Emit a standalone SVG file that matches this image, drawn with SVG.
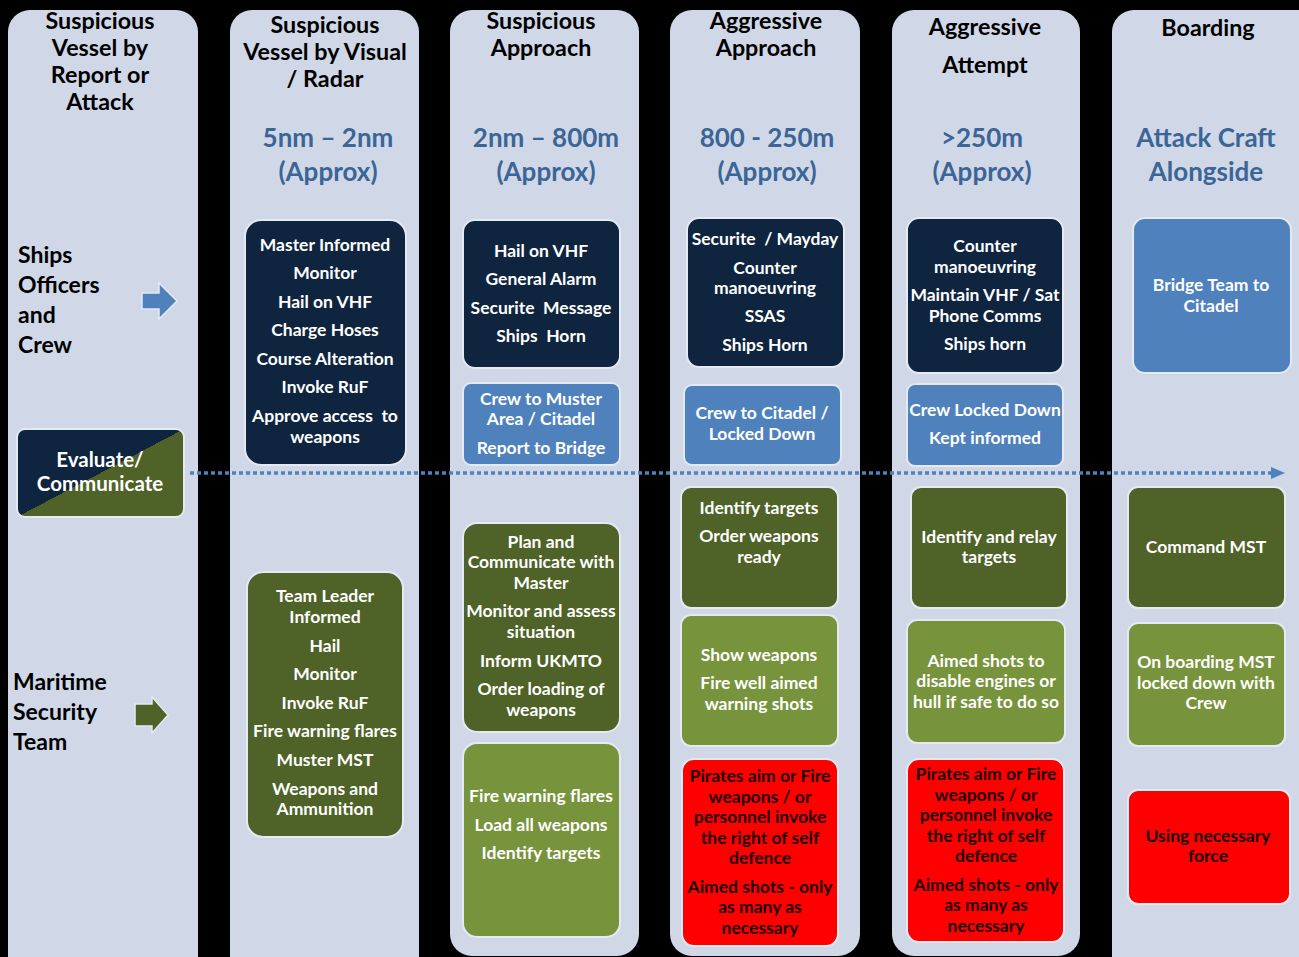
<svg xmlns="http://www.w3.org/2000/svg" width="1299" height="957" viewBox="0 0 1299 957">
<defs>
<style>
.col{fill:#D0D8E8;}
.hd{font-family:Lato,"Open Sans",sans-serif;font-weight:bold;font-size:23.3px;fill:#000;text-anchor:middle;}
.rng{font-family:Lato,"Open Sans",sans-serif;font-weight:bold;font-size:26px;fill:#3B6596;text-anchor:middle;}
.lbl{font-family:Lato,"Open Sans",sans-serif;font-weight:bold;font-size:23px;fill:#000;}
.box{stroke:#E4E9F2;stroke-width:2;}
.navy{fill:#0F243E;}
.dg{fill:#4F6228;}
.lg{fill:#77933C;}
.bl{fill:#4F81BD;}
.rd{fill:#FF0000;}
.t{font-family:Lato,"Open Sans",sans-serif;font-weight:bold;font-size:17.5px;fill:#fff;text-anchor:middle;}
.tr{font-family:Lato,"Open Sans",sans-serif;font-weight:bold;font-size:17.5px;fill:#1a0000;text-anchor:middle;}
.ev{font-family:Lato,"Open Sans",sans-serif;font-weight:bold;font-size:20.5px;fill:#fff;text-anchor:middle;}
</style>
<linearGradient id="evg" x1="0" y1="0" x2="1" y2="1">
<stop offset="0.5" stop-color="#0F243E"/>
<stop offset="0.5" stop-color="#4F6228"/>
</linearGradient>
<marker id="ah" markerWidth="14" markerHeight="12" refX="0" refY="6" orient="auto" markerUnits="userSpaceOnUse">
<path d="M0,0 L14,6 L0,12 Z" fill="#4F81BD"/>
</marker>
</defs>
<rect x="0" y="0" width="1299" height="957" fill="#000"/>

<g id="columns">
<rect class="col" x="8" y="10" width="190" height="970" rx="22"/>
<rect class="col" x="230" y="10" width="189" height="970" rx="22"/>
<rect class="col" x="450" y="10" width="189" height="946" rx="22"/>
<rect class="col" x="670" y="10" width="190" height="946" rx="22"/>
<rect class="col" x="892" y="10" width="188" height="946" rx="22"/>
<rect class="col" x="1112" y="10" width="210" height="970" rx="22"/>
</g>

<g id="headers">
<text class="hd" x="100" y="29">Suspicious</text>
<text class="hd" x="100" y="56">Vessel by</text>
<text class="hd" x="100" y="83">Report or</text>
<text class="hd" x="100" y="110">Attack</text>

<text class="hd" x="325" y="33">Suspicious</text>
<text class="hd" x="325" y="60">Vessel by Visual</text>
<text class="hd" x="325" y="87">/ Radar</text>
<text class="rng" x="328" y="147">5nm – 2nm</text>
<text class="rng" x="328" y="181">(Approx)</text>

<text class="hd" x="541" y="29">Suspicious</text>
<text class="hd" x="541" y="56">Approach</text>
<text class="rng" x="546" y="147">2nm – 800m</text>
<text class="rng" x="546" y="181">(Approx)</text>

<text class="hd" x="766" y="29">Aggressive</text>
<text class="hd" x="766" y="56">Approach</text>
<text class="rng" x="767" y="147">800 - 250m</text>
<text class="rng" x="767" y="181">(Approx)</text>

<text class="hd" x="985" y="35">Aggressive</text>
<text class="hd" x="985" y="73">Attempt</text>
<text class="rng" x="982" y="147">&gt;250m</text>
<text class="rng" x="982" y="181">(Approx)</text>

<text class="hd" x="1208" y="36">Boarding</text>
<text class="rng" x="1206" y="147">Attack Craft</text>
<text class="rng" x="1206" y="181">Alongside</text>
</g>

<g id="lane-ships">
<text class="lbl" x="18" y="263">Ships</text>
<text class="lbl" x="18" y="293">Officers</text>
<text class="lbl" x="18" y="323">and</text>
<text class="lbl" x="18" y="353">Crew</text>
<path d="M142,293 L159,293 L159,283 L177,301 L159,319 L159,309 L142,309 Z" fill="#4F81BD" stroke="#E4E9F2" stroke-width="1.5"/>
</g>

<g id="lane-mst">
<text class="lbl" x="13" y="690">Maritime</text>
<text class="lbl" x="13" y="720">Security</text>
<text class="lbl" x="13" y="750">Team</text>
<path d="M135,704 L152,704 L152,697 L168,715 L152,733 L152,726 L135,726 Z" fill="#4F6228" stroke="#E4E9F2" stroke-width="1.5"/>
</g>

<g id="evaluate">
<rect class="box" x="17" y="429" width="167" height="88" rx="8" fill="url(#evg)"/>
<text class="ev" x="100" y="467">Evaluate/</text>
<text class="ev" x="100" y="491">Communicate</text>
</g>

<g id="connectors">
<line x1="190" y1="473" x2="1271" y2="473" stroke="#4F81BD" stroke-width="3.5" stroke-dasharray="4 3" marker-end="url(#ah)"/>
</g>

<g id="c2-navy">
<rect class="box navy" x="245" y="220" width="161" height="245" rx="16"/>
<text class="t" x="325" y="251">Master Informed</text>
<text class="t" x="325" y="279">Monitor</text>
<text class="t" x="325" y="308">Hail on VHF</text>
<text class="t" x="325" y="336">Charge Hoses</text>
<text class="t" x="325" y="365">Course Alteration</text>
<text class="t" x="325" y="393">Invoke RuF</text>
<text class="t" x="325" y="422" xml:space="preserve">Approve access  to</text>
<text class="t" x="325" y="443">weapons</text>
</g>

<g id="c2-green">
<rect class="box dg" x="247" y="572" width="156" height="265" rx="16"/>
<text class="t" x="325" y="602">Team Leader</text>
<text class="t" x="325" y="623">Informed</text>
<text class="t" x="325" y="652">Hail</text>
<text class="t" x="325" y="680">Monitor</text>
<text class="t" x="325" y="709">Invoke RuF</text>
<text class="t" x="325" y="737">Fire warning flares</text>
<text class="t" x="325" y="766">Muster MST</text>
<text class="t" x="325" y="795">Weapons and</text>
<text class="t" x="325" y="815">Ammunition</text>
</g>

<g id="c3-navy">
<rect class="box navy" x="463" y="220" width="157" height="148" rx="12"/>
<text class="t" x="541" y="257">Hail on VHF</text>
<text class="t" x="541" y="285">General Alarm</text>
<text class="t" x="541" y="314" xml:space="preserve">Securite  Message</text>
<text class="t" x="541" y="342" xml:space="preserve">Ships  Horn</text>
</g>

<g id="c3-blue">
<rect class="box bl" x="463" y="383" width="157" height="82" rx="8"/>
<text class="t" x="541" y="405">Crew to Muster</text>
<text class="t" x="541" y="425">Area / Citadel</text>
<text class="t" x="541" y="454">Report to Bridge</text>
</g>

<g id="c3-dgreen">
<rect class="box dg" x="463" y="523" width="157" height="209" rx="14"/>
<text class="t" x="541" y="548">Plan and</text>
<text class="t" x="541" y="568">Communicate with</text>
<text class="t" x="541" y="589">Master</text>
<text class="t" x="541" y="617">Monitor and assess</text>
<text class="t" x="541" y="638">situation</text>
<text class="t" x="541" y="667">Inform UKMTO</text>
<text class="t" x="541" y="695">Order loading of</text>
<text class="t" x="541" y="716">weapons</text>
</g>

<g id="c3-lgreen">
<rect class="box lg" x="463" y="743" width="157" height="194" rx="14"/>
<text class="t" x="541" y="802">Fire warning flares</text>
<text class="t" x="541" y="831">Load all weapons</text>
<text class="t" x="541" y="859">Identify targets</text>
</g>

<g id="c4-navy">
<rect class="box navy" x="687" y="218" width="157" height="149" rx="12"/>
<text class="t" x="765" y="245" xml:space="preserve">Securite  / Mayday</text>
<text class="t" x="765" y="274">Counter</text>
<text class="t" x="765" y="294">manoeuvring</text>
<text class="t" x="765" y="322">SSAS</text>
<text class="t" x="765" y="351">Ships Horn</text>
</g>

<g id="c4-blue">
<rect class="box bl" x="684" y="385" width="157" height="80" rx="8"/>
<text class="t" x="762" y="419">Crew to Citadel /</text>
<text class="t" x="762" y="440">Locked Down</text>
</g>

<g id="c4-dgreen">
<rect class="box dg" x="681" y="487" width="157" height="121" rx="10"/>
<text class="t" x="759" y="514">Identify targets</text>
<text class="t" x="759" y="542">Order weapons</text>
<text class="t" x="759" y="563">ready</text>
</g>

<g id="c4-lgreen">
<rect class="box lg" x="681" y="615" width="157" height="131" rx="10"/>
<text class="t" x="759" y="661">Show weapons</text>
<text class="t" x="759" y="689">Fire well aimed</text>
<text class="t" x="759" y="710">warning shots</text>
</g>

<g id="c4-red">
<rect class="box rd" x="682" y="759" width="156" height="187" rx="12"/>
<text class="tr" x="760" y="782">Pirates aim or Fire</text>
<text class="tr" x="760" y="803">weapons / or</text>
<text class="tr" x="760" y="823">personnel invoke</text>
<text class="tr" x="760" y="844">the right of self</text>
<text class="tr" x="760" y="864">defence</text>
<text class="tr" x="760" y="893">Aimed shots - only</text>
<text class="tr" x="760" y="913">as many as</text>
<text class="tr" x="760" y="934">necessary</text>
</g>

<g id="c5-navy">
<rect class="box navy" x="907" y="218" width="156" height="155" rx="12"/>
<text class="t" x="985" y="252">Counter</text>
<text class="t" x="985" y="273">manoeuvring</text>
<text class="t" x="985" y="301">Maintain VHF / Sat</text>
<text class="t" x="985" y="322">Phone Comms</text>
<text class="t" x="985" y="350">Ships horn</text>
</g>

<g id="c5-blue">
<rect class="box bl" x="907" y="384" width="156" height="82" rx="8"/>
<text class="t" x="985" y="416">Crew Locked Down</text>
<text class="t" x="985" y="444">Kept informed</text>
</g>

<g id="c5-dgreen">
<rect class="box dg" x="911" y="487" width="156" height="121" rx="10"/>
<text class="t" x="989" y="543">Identify and relay</text>
<text class="t" x="989" y="563">targets</text>
</g>

<g id="c5-lgreen">
<rect class="box lg" x="907" y="620" width="158" height="123" rx="10"/>
<text class="t" x="986" y="667">Aimed shots to</text>
<text class="t" x="986" y="687">disable engines or</text>
<text class="t" x="986" y="708">hull if safe to do so</text>
</g>

<g id="c5-red">
<rect class="box rd" x="907" y="759" width="157" height="183" rx="12"/>
<text class="tr" x="986" y="780">Pirates aim or Fire</text>
<text class="tr" x="986" y="801">weapons / or</text>
<text class="tr" x="986" y="821">personnel invoke</text>
<text class="tr" x="986" y="842">the right of self</text>
<text class="tr" x="986" y="862">defence</text>
<text class="tr" x="986" y="891">Aimed shots - only</text>
<text class="tr" x="986" y="911">as many as</text>
<text class="tr" x="986" y="932">necessary</text>
</g>

<g id="c6-blue">
<rect class="box bl" x="1133" y="218" width="158" height="155" rx="12"/>
<text class="t" x="1211" y="291">Bridge Team to</text>
<text class="t" x="1211" y="312">Citadel</text>
</g>

<g id="c6-dgreen">
<rect class="box dg" x="1128" y="487" width="157" height="121" rx="10"/>
<text class="t" x="1206" y="553">Command MST</text>
</g>

<g id="c6-lgreen">
<rect class="box lg" x="1128" y="623" width="157" height="123" rx="10"/>
<text class="t" x="1206" y="668">On boarding MST</text>
<text class="t" x="1206" y="689">locked down with</text>
<text class="t" x="1206" y="709">Crew</text>
</g>

<g id="c6-red">
<rect class="box rd" x="1128" y="790" width="162" height="114" rx="10"/>
<text class="tr" x="1208" y="842">Using necessary</text>
<text class="tr" x="1208" y="862">force</text>
</g>
</svg>
